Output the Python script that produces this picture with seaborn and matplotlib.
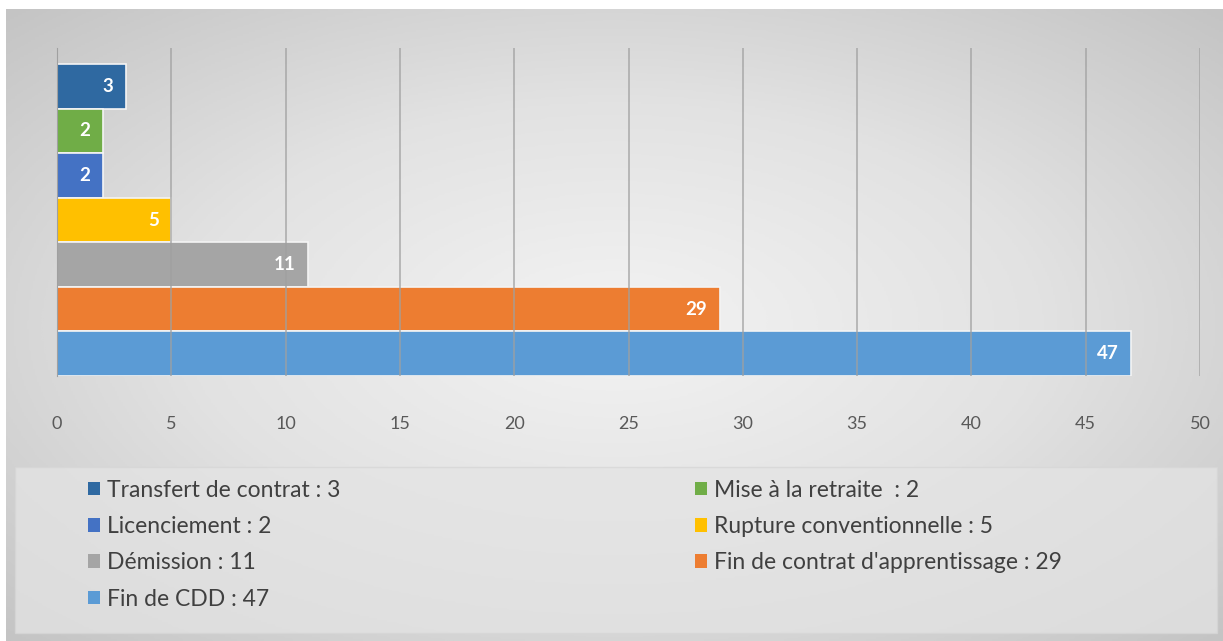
import numpy as np
import pandas as pd
import seaborn as sns
import matplotlib.pyplot as plt
from matplotlib.patches import Rectangle, Patch

causes = ['Transfert de contrat', 'Mise à la retraite ', 'Licenciement', 'Rupture conventionnelle',
          'Démission', "Fin de contrat d'apprentissage", 'Fin de CDD']
counts = [3, 2, 2, 5, 11, 29, 47]
colors = ['#2F69A1', '#70AD47', '#4472C4', '#FFC000', '#A5A5A5', '#ED7D31', '#5B9BD5']
xticks = [0, 5, 10, 15, 20, 25, 30, 35, 40, 45, 50]

df = pd.DataFrame({'cause': causes, 'count': counts})

sns.set_style('white')
plt.rcParams['font.family'] = ['Lato', 'DejaVu Sans']

W, H = 1223, 641
fig = plt.figure(figsize=(W / 100, H / 100), dpi=100, facecolor='white')

# grey radial gradient background of the chart area
bg = fig.add_axes([6 / W, 0, 1 - 6 / W, 1 - 9 / H], zorder=0)
yy, xx = np.mgrid[-1:1:300j, -1:1:600j]
r = np.sqrt(xx ** 2 + yy ** 2) / np.sqrt(2)
bg.imshow(r, cmap=sns.blend_palette(['#F3F3F3', '#E2E2E2', '#C4C4C4'], as_cmap=True),
          aspect='auto', extent=[0, 1, 0, 1], vmin=0, vmax=1)
bg.set_axis_off()

# legend box
fig.patches.append(Rectangle((15 / W, 1 - 633 / H), 1202 / W, 166 / H, transform=fig.transFigure,
                             facecolor='#E4E4E4', edgecolor='#D6D6D6', lw=1, alpha=0.75, zorder=1))

ax = fig.add_axes([57 / W, 1 - 376 / H, 1143 / W, 328 / H], zorder=2)
ax.patch.set_alpha(0)
sns.barplot(data=df, y='cause', x='count', hue='cause', palette=colors, orient='h', saturation=1,
            width=1, edgecolor='#F4F4F4', linewidth=1.2, legend=False, ax=ax, zorder=2)

for c in ax.containers:
    for t in ax.bar_label(c, padding=-9, color='white', fontsize=13.5, fontweight='bold'):
        t.set_ha('right')

ax.set_xlim(0, 50)
ax.set_ylim(6.5, -0.86)
ax.set_xticks(xticks)
ax.set_yticks([])
ax.set_xlabel('')
ax.set_ylabel('')
ax.grid(axis='x', color='#A0A0A0', lw=1.2, alpha=0.8, zorder=3)
ax.set_axisbelow(False)
for s in ['top', 'right', 'bottom']:
    ax.spines[s].set_visible(False)
ax.spines['left'].set_color('#A0A0A0')
ax.tick_params(axis='x', direction='out', length=9, width=1.2, color='#A0A0A0',
               pad=20, labelsize=13, labelcolor='#595959')

handles = [Patch(facecolor=c, edgecolor='none') for c in colors]
labels = [f'{a} : {v}' for a, v in zip(causes, counts)]
order = [0, 2, 4, 6, 1, 3, 5]
fig.legend([handles[i] for i in order], [labels[i] for i in order], ncol=2, frameon=False,
           loc='upper left', bbox_to_anchor=(67 / W, 1 - 459 / H), fontsize=16.5,
           labelcolor='#404040', handlelength=0.55, handleheight=0.55, handletextpad=0.3,
           labelspacing=0.67, columnspacing=15.45)

fig.savefig('out.png', dpi=100)
